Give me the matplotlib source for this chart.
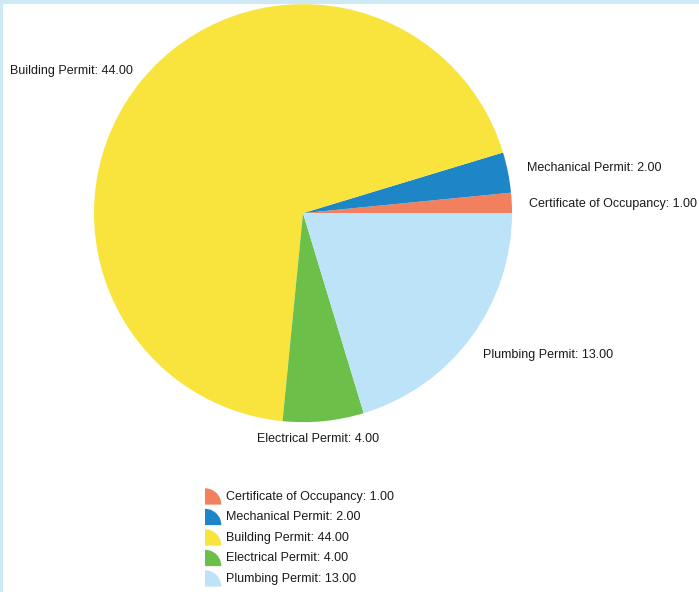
import matplotlib
matplotlib.use("Agg")
import matplotlib.pyplot as plt
from matplotlib.patches import Wedge
from matplotlib.legend_handler import HandlerBase

# data
labels = ["Certificate of Occupancy", "Mechanical Permit", "Building Permit",
          "Electrical Permit", "Plumbing Permit"]
values = [1, 2, 44, 4, 13]
colors = ["#F2805E", "#1E86C6", "#F8E43C", "#6CC04A", "#BDE3F8"]

# label positions (axes fraction), tuned to the reference layout
label_pos = [(1.04, 0.523), (1.035, 0.608), (-0.2, 0.84), (0.535, -0.04), (0.93, 0.16)]
label_ha = ["left", "left", "left", "center", "left"]

plt.rcParams["font.family"] = ["Liberation Sans", "DejaVu Sans"]

fig = plt.figure(figsize=(6.99, 5.92), dpi=100)
fig.patch.set_facecolor("white")
ax = fig.add_axes([0.1345, 0.2869, 0.598, 0.7061])
wedges, _ = ax.pie(values, colors=colors, startangle=0, counterclock=True,
                   wedgeprops=dict(linewidth=0))
ax.set_xlim(-1, 1)
ax.set_ylim(-1, 1)
ax.set_aspect("auto")
ax.axis("off")

for i in range(len(labels)):
    ax.text(label_pos[i][0], label_pos[i][1], f"{labels[i]}: {values[i]:.2f}",
            transform=ax.transAxes, ha=label_ha[i], va="center",
            fontsize=9, color="#1a1a1a", clip_on=False)


class WedgeHandler(HandlerBase):
    # quarter-pie icon like the original legend
    def create_artists(self, legend, orig_handle, xdescent, ydescent,
                       width, height, fontsize, trans):
        r = width
        w = Wedge((-xdescent, -ydescent - 3.5), r * 0.9, 0, 90,
                  facecolor=orig_handle.get_facecolor(), linewidth=0,
                  transform=trans)
        return [w]


leg = fig.legend(wedges, [f"{l}: {v:.2f}" for l, v in zip(labels, values)],
                 handler_map={w: WedgeHandler() for w in wedges},
                 loc="upper left", bbox_to_anchor=(0.2933, 0.171),
                 frameon=False, fontsize=9, handlelength=1.45,
                 handletextpad=0.25, labelspacing=0.68, borderpad=0,
                 borderaxespad=0)
for t in leg.get_texts():
    t.set_color("#1a1a1a")

# thin light-blue frame along the top and left edges
fig.add_artist(plt.Line2D([0, 1], [0.997, 0.997], color="#CFE8F5", lw=3,
                          transform=fig.transFigure))
fig.add_artist(plt.Line2D([0.002, 0.002], [0, 1], color="#CFE8F5", lw=3,
                          transform=fig.transFigure))

fig.savefig("out.png", dpi=100)
